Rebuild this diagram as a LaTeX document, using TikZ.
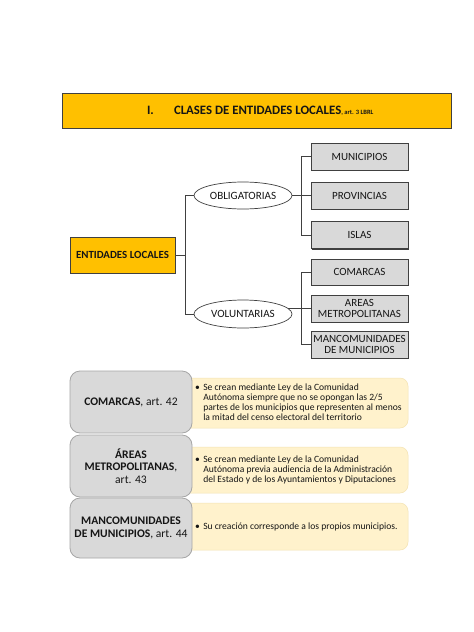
\documentclass[tikz,border=0pt]{standalone}
\usepackage{fontspec}
\setmainfont{Carlito}
\usetikzlibrary{shadows,shapes.geometric}
\definecolor{orangeF}{HTML}{FFC000}
\definecolor{grayF}{HTML}{D9D9D9}
\definecolor{darkB}{HTML}{404040}
\definecolor{grayB}{HTML}{A6A6A6}
\definecolor{yellowF}{HTML}{FFF2CC}
\definecolor{yellowB}{HTML}{F3E3B3}
\definecolor{txt}{HTML}{151515}
\begin{document}
\begin{tikzpicture}[x=1pt,y=-1pt,
  every node/.style={inner sep=0pt, outer sep=0pt, text=txt},
  titlebox/.style={draw=darkB, line width=0.8pt, fill=orangeF},
  entbox/.style={draw=darkB, line width=0.8pt, fill=orangeF, minimum width=105, minimum height=36, font=\fontsize{10.9}{12}\selectfont\bfseries},
  ellnode/.style={ellipse, draw=darkB, line width=0.7pt, fill=white, minimum width=98, minimum height=27, font=\fontsize{11.1}{12}\selectfont},
  graybox/.style={draw=darkB, line width=0.7pt, fill=grayF, minimum width=97, minimum height=27, align=center,
     font=\fontsize{11}{11.8}\selectfont,
     drop shadow={shadow xshift=1.2pt, shadow yshift=-1.2pt, fill=darkB, opacity=1}},
  conn/.style={draw=darkB, line width=0.7pt},
  leftbox/.style={draw=grayB, line width=0.8pt, fill=grayF, rounded corners=10pt, minimum width=122, align=center,
     font=\fontsize{11.6}{12.5}\selectfont},
  ybox/.style={draw=yellowB, line width=0.5pt, fill=yellowF, rounded corners=8pt, minimum width=228},
  bul/.style={anchor=west, font=\fontsize{9.6}{10}\selectfont}
]
\useasboundingbox (0,0) rectangle (474,632);
\fill[white] (0,0) rectangle (474,632);

% title
\node[titlebox, minimum width=389, minimum height=35] (title) at (256.5,110.5) {};
\node[anchor=base west, font=\fontsize{12.8}{14}\selectfont\bfseries] (tnum) at (147,114.5) {I.};
\node[anchor=base west, font=\fontsize{12.8}{14}\selectfont\bfseries] (ttext) at (174,114.5) {CLASES DE ENTIDADES LOCALES\fontsize{6.5}{8}\selectfont, art. 3 LBRL};

% tree
\node[entbox] (ent) at (122.5,255) {ENTIDADES LOCALES};
\node[ellnode] (obl) at (243,195.5) {OBLIGATORIAS};
\node[ellnode, minimum height=28] (vol) at (243,314) {VOLUNTARIAS};

\node[graybox] (mun) at (359.5,156.5) {MUNICIPIOS};
\node[graybox] (prov) at (359.5,195.5) {PROVINCIAS};
\node[graybox] (isl) at (359.5,235) {ISLAS};
\node[graybox, minimum height=26] (com) at (359.5,272) {COMARCAS};
\node[graybox] (are) at (359.5,308.5) {AREAS\\METROPOLITANAS};
\node[graybox] (man) at (359.5,344.5) {MANCOMUNIDADES\\DE MUNICIPIOS};

\coordinate (t1) at (185,255);
\draw[conn] (ent.east) -- (t1);
\draw[conn] (obl.west) -| (t1);
\draw[conn] (vol.west) -| (t1);
\draw[conn] (obl.east) -- (prov.west);
\draw[conn] (mun.west) -- ++(-10,0) |- (isl.west);
\draw[conn] (vol.7) -- (vol.7 -| are.west);
\draw[conn] (com.west) -- ++(-10,0) |- (man.west);

% bottom section
\node[ybox, minimum height=50] (y1) at (294,403) {};
\node[ybox, minimum height=46] (y2) at (294,470) {};
\node[ybox, minimum height=47] (y3) at (294,526.5) {};

\node[leftbox, minimum height=62] (l1) at (131,402) {\textbf{COMARCAS}, art. 42};
\node[leftbox, minimum height=62] (l2) at (131,466) {\textbf{ÁREAS}\\\textbf{METROPOLITANAS},\\art. 43};
\node[leftbox, minimum height=60] (l3) at (131,528) {\textbf{MANCOMUNIDADES}\\\textbf{DE MUNICIPIOS}, art. 44};

\node[bul] (b1) at (195,403) {\begin{tabular}{@{}l@{\hspace{3.5pt}}l@{}}\textbullet & Se crean mediante Ley de la Comunidad\\ & Autónoma siempre que no se opongan las 2/5\\ & partes de los municipios que representen al menos\\ & la mitad del censo electoral del territorio\end{tabular}};
\node[bul] (b2) at (195,470) {\begin{tabular}{@{}l@{\hspace{3.5pt}}l@{}}\textbullet & Se crean mediante Ley de la Comunidad\\ & Autónoma previa audiencia de la Administración\\ & del Estado y de los Ayuntamientos y Diputaciones\end{tabular}};
\node[bul] (b3) at (195,527) {\begin{tabular}{@{}l@{\hspace{3.5pt}}l@{}}\textbullet & Su creación corresponde a los propios municipios.\end{tabular}};
\end{tikzpicture}
\end{document}
